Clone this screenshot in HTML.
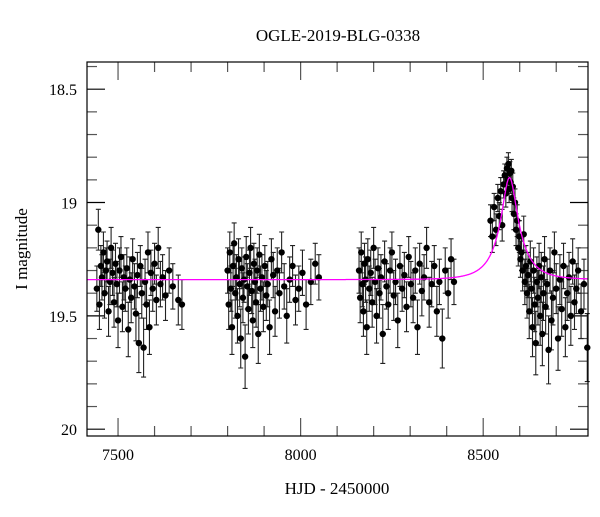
<!DOCTYPE html>
<html><head><meta charset="utf-8"><style>
body{margin:0;background:#fff}
svg text{font-family:"Liberation Serif",serif;fill:#000}
</style></head><body>
<svg id="chart" width="600" height="512" viewBox="0 0 600 512">
<text x="338" y="41" font-size="17" text-anchor="middle">OGLE-2019-BLG-0338</text>
<text x="337" y="494" font-size="17" text-anchor="middle">HJD - 2450000</text>
<text transform="translate(27,249) rotate(-90)" font-size="17" text-anchor="middle">I magnitude</text>
<g id="ticks"></g>
<g id="errs"></g>
<g id="pts"></g>
<path id="model" fill="none" stroke="#ff00ff" stroke-width="1.3"/>
<rect x="87" y="62" width="501" height="374" fill="none" stroke="#000" stroke-width="1.2"/>
</svg>
<script>
const xTicks=[7500,8000,8500];
const yTicks=[18.5,19,19.5,20];
const modelParams=[8572,19.34,0.3,68,0.21]; // t0, base, u0, tE, fs
const times=[7442,7446,7449,7453,7456,7460,7463,7467,7470,7474,7478,7481,7485,7489,7493,7497,7500,7504,7508,7512,7516,7520,7524,7528,7532,7536,7540,7545,7549,7553,7557,7561,7565,7570,7574,7578,7582,7586,7590,7595,7600,7605,7610,7616,7622,7630,7640,7650,7665,7675,
7800,7803,7806,7809,7812,7815,7818,7821,7824,7827,7830,7833,7836,7839,7842,7845,7848,7851,7854,7857,7860,7863,7866,7869,7872,7875,7878,7881,7884,7887,7890,7894,7898,7902,7906,7910,7915,7920,7925,7930,7936,7942,7948,7955,7962,7970,7978,7986,7995,8005,8015,8028,8040,8050,
8160,8163,8166,8169,8172,8175,8178,8181,8184,8188,8192,8196,8200,8204,8208,8212,8216,8220,8225,8230,8235,8240,8245,8250,8255,8260,8266,8272,8278,8284,8290,8296,8302,8308,8314,8320,8326,8332,8338,8345,8352,8359,8366,8373,8380,8388,8396,8404,8412,8420,
8520,8525,8530,8535,8540,8544,8548,8552,8556,8559,8562,8565,8567,8569,8571,8573,8575,8577,8579,8581,8584,8587,8590,8593,8596,8599,8602,8605,8608,8611,8614,8617,8620,8623,8626,8629,8632,8635,8638,8641,8644,8647,8650,8653,8656,8659,8662,8665,8668,8671,8675,8679,8683,8687,8691,8695,8700,8705,8710,8715,8720,8725,8730,8735,8740,8745,8750,8755,8760,8768,8776,8785];
const mags=[19.38,19.12,19.45,19.28,19.33,19.22,19.40,19.30,19.26,19.48,19.35,19.20,19.31,19.44,19.27,19.36,19.52,19.30,19.24,19.46,19.33,19.38,19.29,19.56,19.34,19.42,19.25,19.37,19.49,19.32,19.62,19.28,19.40,19.64,19.35,19.45,19.22,19.55,19.31,19.38,19.27,19.43,19.20,19.36,19.33,19.41,19.30,19.37,19.43,19.45,
19.30,19.45,19.22,19.38,19.55,19.28,19.18,19.40,19.33,19.50,19.25,19.36,19.60,19.29,19.42,19.34,19.68,19.24,19.37,19.47,19.31,19.20,19.39,19.52,19.27,19.35,19.44,19.30,19.58,19.23,19.38,19.33,19.46,19.28,19.41,19.36,19.55,19.25,19.32,19.48,19.30,19.40,19.22,19.37,19.50,19.34,19.28,19.43,19.38,19.31,19.45,19.35,19.27,19.33,
19.30,19.42,19.22,19.36,19.48,19.27,19.34,19.55,19.25,19.38,19.31,19.44,19.20,19.35,19.50,19.29,19.40,19.33,19.58,19.26,19.37,19.45,19.30,19.22,19.41,19.35,19.52,19.28,19.38,19.32,19.46,19.24,19.36,19.42,19.30,19.55,19.27,19.39,19.33,19.20,19.44,19.36,19.28,19.48,19.35,19.60,19.30,19.40,19.25,19.35,
19.08,19.15,19.02,19.12,18.98,19.06,18.95,19.10,18.92,18.88,18.96,18.85,18.90,18.83,18.94,18.87,18.91,18.86,18.98,18.93,19.05,19.00,19.12,19.08,19.20,19.15,19.25,19.22,19.30,19.14,19.35,19.28,19.40,19.32,19.48,19.26,19.38,19.55,19.30,19.45,19.62,19.35,19.42,19.28,19.50,19.33,19.58,19.40,19.25,19.46,19.36,19.65,19.30,19.52,19.42,19.22,19.38,19.60,19.34,19.47,19.28,19.55,19.40,19.33,19.50,19.26,19.44,19.38,19.30,19.48,19.36,19.64];
const errs=[0.10,0.09,0.11,0.09,0.10,0.09,0.11,0.10,0.09,0.11,0.10,0.09,0.10,0.11,0.09,0.10,0.12,0.10,0.09,0.11,0.10,0.10,0.09,0.12,0.10,0.11,0.09,0.10,0.12,0.10,0.13,0.09,0.11,0.13,0.10,0.11,0.09,0.12,0.10,0.10,0.09,0.11,0.09,0.10,0.10,0.11,0.10,0.10,0.11,0.11,
0.10,0.11,0.09,0.10,0.12,0.09,0.09,0.11,0.10,0.12,0.09,0.10,0.13,0.09,0.11,0.10,0.14,0.09,0.10,0.11,0.10,0.09,0.10,0.12,0.09,0.10,0.11,0.10,0.13,0.09,0.10,0.10,0.11,0.09,0.11,0.10,0.12,0.09,0.10,0.11,0.10,0.11,0.09,0.10,0.12,0.10,0.09,0.11,0.10,0.10,0.11,0.10,0.09,0.10,
0.10,0.11,0.09,0.10,0.11,0.09,0.10,0.12,0.09,0.10,0.10,0.11,0.09,0.10,0.12,0.09,0.11,0.10,0.13,0.09,0.10,0.11,0.10,0.09,0.11,0.10,0.12,0.09,0.10,0.10,0.11,0.09,0.10,0.11,0.10,0.12,0.09,0.11,0.10,0.09,0.11,0.10,0.09,0.11,0.10,0.13,0.10,0.11,0.09,0.10,
0.07,0.07,0.06,0.07,0.06,0.06,0.06,0.07,0.06,0.05,0.06,0.05,0.05,0.05,0.06,0.05,0.05,0.05,0.06,0.06,0.07,0.06,0.07,0.07,0.08,0.07,0.08,0.08,0.09,0.08,0.10,0.09,0.11,0.10,0.12,0.09,0.11,0.13,0.10,0.12,0.14,0.11,0.12,0.10,0.13,0.11,0.14,0.12,0.10,0.12,0.11,0.15,0.10,0.13,0.12,0.09,0.11,0.14,0.11,0.12,0.10,0.13,0.12,0.11,0.13,0.10,0.12,0.11,0.10,0.12,0.11,0.15];

const L=87,R=588,T=62,B=436,X0=7415,X1=8787,Y0=18.38,Y1=20.03;
const sx=t=>L+(t-X0)/(X1-X0)*(R-L);
const sy=m=>T+(m-Y0)/(Y1-Y0)*(B-T);
const NS='http://www.w3.org/2000/svg';
function mk(tag,attrs,parent){const e=document.createElementNS(NS,tag);for(const k in attrs)e.setAttribute(k,attrs[k]);parent.appendChild(e);return e;}
const tg=document.getElementById('ticks');
for(let t=7500;t<=8700;t+=100){
  const major=xTicks.includes(t);const len=major?18:10;const x=sx(t);
  const a=mk('line',{x1:x,x2:x,y1:B,y2:B-len,stroke:'#555','stroke-width':1.2},tg);
  
  
  const b=mk('line',{x1:x,x2:x,y1:T,y2:T+len,stroke:'#555','stroke-width':1.2},tg);
  
  
}
xTicks.forEach(t=>{const e=mk('text',{x:sx(t),y:B+24,'font-size':16,'text-anchor':'middle'},tg);e.textContent=t;
  
  });
for(let i=184;i<=200;i++){
  const m=i/100*10/10;const mm=i/10;const major=yTicks.some(v=>Math.abs(v-mm)<1e-6);const len=major?18:10;const y=sy(mm);
  const a=mk('line',{x1:L,x2:L+len,y1:y,y2:y,stroke:major?'#000':'#555','stroke-width':1.2},tg);
  
  
  const b=mk('line',{x1:R,x2:R-len,y1:y,y2:y,stroke:major?'#000':'#555','stroke-width':1.2},tg);
  
  
}
yTicks.forEach(m=>{const e=mk('text',{x:L-10,y:sy(m)+6,'font-size':16,'text-anchor':'end'},tg);e.textContent=(m===19||m===20)?String(m):m.toFixed(1);
  
  });
const eg=document.getElementById('errs'),pg=document.getElementById('pts');
times.forEach((t,i)=>{
  const x=sx(t),y1=sy(mags[i]-errs[i]),y2=sy(mags[i]+errs[i]);
  const p=mk('path',{d:`M${x},${y1}V${y2}M${x-2.5},${y1}H${x+2.5}M${x-2.5},${y2}H${x+2.5}`,stroke:'#222','stroke-width':1.1,fill:'none'},eg);
  
  
  const c=mk('circle',{cx:x,cy:sy(mags[i]),r:3.2,fill:'#000'},pg);
  
  
});
const [t0,base,u0,tE,fs]=modelParams;
let d='';
for(let t=X0;t<=X1;t+=1){
  const u=Math.sqrt(u0*u0+((t-t0)/tE)**2);
  const A=(u*u+2)/(u*Math.sqrt(u*u+4));
  const m=base-2.5*Math.log10(fs*A+1-fs);
  d+=(d?'L':'M')+sx(t).toFixed(1)+','+sy(m).toFixed(1);
}
document.getElementById('model').setAttribute('d',d);
</script>
</body></html>
